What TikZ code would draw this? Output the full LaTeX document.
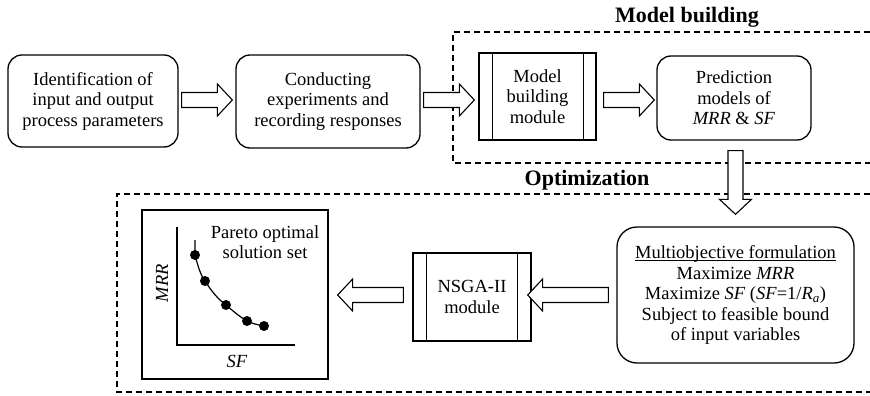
\documentclass[tikz,border=0pt]{standalone}
\usepackage{fontspec}
\setmainfont{Liberation Serif}
\usetikzlibrary{calc}
% underline that sits just below the baseline
\newcommand\baseuline[1]{{\setbox0\hbox{#1}\rlap{\rule[-2.6pt]{\wd0}{1.3pt}}\box0}}
\begin{document}
\begin{tikzpicture}[x=1pt,y=-1pt,
  txt/.style={font=\fontsize{18.5}{20.5}\selectfont, align=center, inner sep=0pt},
  rbox/.style={txt, draw, line width=1.3pt, rounded corners=14pt},
  modbox/.style={txt, draw, line width=1.3pt},
  heading/.style={font=\fontsize{22}{24}\selectfont\bfseries, inner sep=0pt},
  frame/.style={line width=1.3pt, dash pattern=on 6pt off 4pt},
  blk/.style={draw, line width=1.1pt, fill=white,
    to path={let \p1=(\tikztostart), \p2=(\tikztotarget),
      \n1={atan2(\y2-\y1,\x2-\x1)}, \n2={veclen(\x2-\x1,\y2-\y1)} in
      [shift={(\p1)}, rotate=\n1]
      (0,-7.5) -- ({\n2-15},-7.5) -- ({\n2-15},-16) -- (\n2,0)
      -- ({\n2-15},16) -- ({\n2-15},7.5) -- (0,7.5) -- cycle}},
  dot/.style={circle, fill=black, inner sep=0pt, minimum size=10pt},
  axis/.style={line width=1.2pt},
]
\useasboundingbox (0,0) rectangle (870,396);

% stage frames
\draw[frame] (870,32) -- (453,32) -- (453,163) -- (870,163);
\draw[frame] (870,194) -- (117,194) -- (117,392) -- (870,392);
\node[heading] (hmb) at (687,17) {Model building};
\node[heading] (hopt) at (587,180) {Optimization};

% first row
\node[rbox, minimum width=170pt, minimum height=92pt] (idn) at (93,101)
  {Identification of\\input and output\\process parameters};
\node[rbox, minimum width=184pt, minimum height=93pt] (exp) at (328,101.5)
  {Conducting\\experiments and\\recording responses};
\node[modbox, minimum width=117pt, minimum height=87pt] (mbm) at (537.5,96.5)
  {Model\\building\\module};
\draw[line width=1pt] ([xshift=14pt]mbm.north west) -- ([xshift=14pt]mbm.south west);
\draw[line width=1pt] ([xshift=-13pt]mbm.north east) -- ([xshift=-13pt]mbm.south east);
\node[rbox, minimum width=154pt, minimum height=84pt] (pred) at (734,98)
  {Prediction\\models of\\\textit{MRR} \& \textit{SF}};

% second row
\node[rbox, rounded corners=20pt, minimum width=237pt, minimum height=136pt] (mof) at (735.5,295)
  {\baseuline{Multiobjective formulation}\\
   Maximize \textit{MRR}\\
   Maximize \textit{SF} (\textit{SF}=1/\textit{R}\textsubscript{\itshape a})\\
   Subject to feasible bound\\
   of input variables};
\node[modbox, minimum width=118pt, minimum height=88pt] (nsga) at (472,297)
  {NSGA-II\\module};
\draw[line width=1pt] ([xshift=14pt]nsga.north west) -- ([xshift=14pt]nsga.south west);
\draw[line width=1pt] ([xshift=-14pt]nsga.north east) -- ([xshift=-14pt]nsga.south east);
\node[modbox, minimum width=186pt, minimum height=169pt] (par) at (235,294.5) {};

% Pareto front sketch
\draw[axis] (177,227) -- (177,345) -- (295,345);
\draw[line width=1.2pt] (195,240) -- (195,255)
  .. controls (198,266) and (200,274) .. (205,281)
  .. controls (212,292) and (218,299) .. (226,305)
  .. controls (233,311) and (240,317) .. (247,321)
  .. controls (253,324) and (259,325) .. (264,326);
\node[dot] (p1) at (195,255) {};
\node[dot] (p2) at (205,281) {};
\node[dot] (p3) at (226,305) {};
\node[dot] (p4) at (247,321) {};
\node[dot] (p5) at (264,326) {};
\node[txt] (plab) at (265,242) {Pareto optimal\\solution set};
\node[txt, rotate=90, font=\fontsize{18.5}{20.5}\selectfont\itshape] (ylab) at (162,283) {MRR};
\node[txt, font=\fontsize{18.5}{20.5}\selectfont\itshape] (xlab) at (237,361) {SF};

% block arrows
\draw[blk] ([xshift=3pt]idn.east |- 0,100) to ([xshift=-3pt]exp.west |- 0,100);
\draw[blk] ([xshift=3pt]exp.east |- 0,100) to ([xshift=-4pt]mbm.west |- 0,100);
\draw[blk] ([xshift=7pt]mbm.east |- 0,100) to ([xshift=-2pt]pred.west |- 0,100);
\draw[blk] ([yshift=-10pt]pred.south -| 735.5,0) to ([yshift=12pt]mof.north);
\draw[blk] ([xshift=-8pt]mof.west |- 0,295) to ([xshift=-4pt]nsga.east |- 0,295);
\draw[blk] ([xshift=-9pt]nsga.west |- 0,295) to ([xshift=9pt]par.east |- 0,295);
\end{tikzpicture}
\end{document}
